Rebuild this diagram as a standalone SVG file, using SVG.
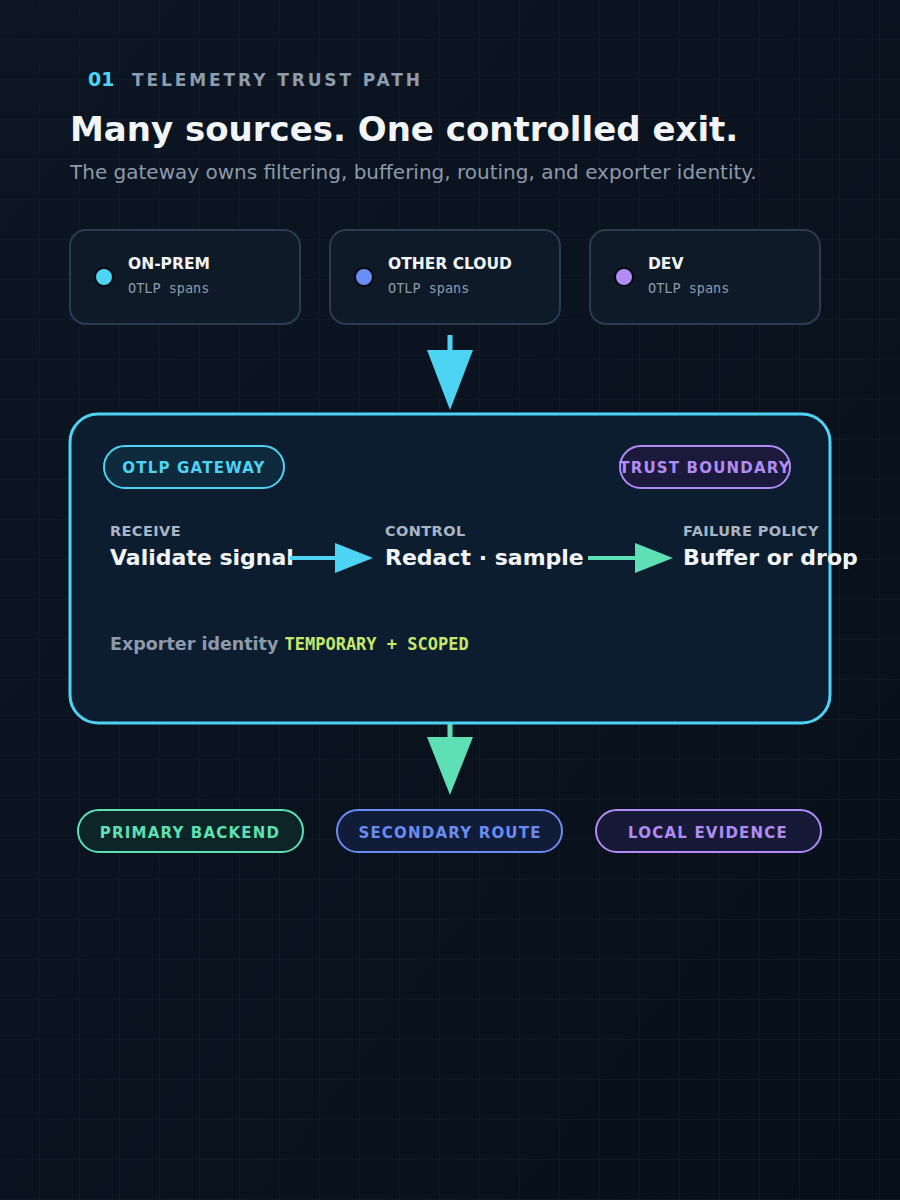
<svg xmlns="http://www.w3.org/2000/svg" width="900" height="1200" viewBox="0 0 900 1200">
<defs>
<linearGradient id="bg" x1="0" y1="0" x2="1" y2="1"><stop offset="0" stop-color="#0c1622"/><stop offset="1" stop-color="#070f1a"/></linearGradient>
<pattern id="grid" width="40" height="40" patternUnits="userSpaceOnUse"><path d="M40 0V40H0" fill="none" stroke="#15202d" stroke-width="1"/></pattern>
<style>
text{font-family:"DejaVu Sans",sans-serif}
.card{fill:#0f1a28;stroke:#2a3c52;stroke-width:2}
.ct{font-size:15.5px;font-weight:bold;fill:#f2f5f8}
.cs{font-size:13.5px;fill:#8d9aab;font-family:"DejaVu Sans Mono",monospace}
.lab{font-size:14.5px;font-weight:bold;fill:#a9b5c5;letter-spacing:.4px}
.big{font-size:22px;font-weight:bold;fill:#f2f5f8}
.pill{font-size:15px;font-weight:bold;letter-spacing:1.2px;text-anchor:middle}
</style>
</defs>
<rect width="900" height="1200" fill="url(#bg)"/>
<rect width="900" height="1200" fill="url(#grid)"/>
<text x="88" y="86" font-size="19" font-weight="bold" fill="#4dd4f5">01</text>
<text x="132" y="86" font-size="17" font-weight="bold" fill="#8d9cae" letter-spacing="2.9">TELEMETRY TRUST PATH</text>
<text x="70" y="141" font-size="34" font-weight="bold" fill="#f2f5f8">Many sources. One controlled exit.</text>
<text x="70" y="179" font-size="20" fill="#8d9aab">The gateway owns filtering, buffering, routing, and exporter identity.</text>
<g id="src-onprem"><rect class="card" x="70" y="230" width="230" height="94" rx="16"/><circle cx="104" cy="277" r="9" fill="#4dd4f5" stroke="#050a10" stroke-width="2"/><text class="ct" x="128" y="269">ON-PREM</text><text class="cs" x="128" y="293">OTLP spans</text></g>
<g id="src-cloud"><rect class="card" x="330" y="230" width="230" height="94" rx="16"/><circle cx="364" cy="277" r="9" fill="#6a8cf5" stroke="#050a10" stroke-width="2"/><text class="ct" x="388" y="269">OTHER CLOUD</text><text class="cs" x="388" y="293">OTLP spans</text></g>
<g id="src-dev"><rect class="card" x="590" y="230" width="230" height="94" rx="16"/><circle cx="624" cy="277" r="9" fill="#b18cf5" stroke="#050a10" stroke-width="2"/><text class="ct" x="648" y="269">DEV</text><text class="cs" x="648" y="293">OTLP spans</text></g>
<g id="gateway">
<rect x="70" y="414" width="760" height="309" rx="28" fill="#0d1d30" stroke="#4dd4f5" stroke-width="3"/>
<rect x="104" y="446" width="180" height="42" rx="21" fill="#0f2a3c" stroke="#4dd4f5" stroke-width="2"/>
<text class="pill" x="194" y="473" fill="#4dd4f5">OTLP GATEWAY</text>
<rect x="620" y="446" width="170" height="42" rx="21" fill="#1c1a3a" stroke="#b18cf5" stroke-width="2"/>
<text class="pill" x="705" y="473" fill="#b18cf5">TRUST BOUNDARY</text>
<text class="lab" x="110" y="536">RECEIVE</text><text class="big" x="110" y="565">Validate signal</text>
<text class="lab" x="385" y="536">CONTROL</text><text class="big" x="385" y="565">Redact · sample</text>
<text class="lab" x="683" y="536">FAILURE POLICY</text><text class="big" x="683" y="565">Buffer or drop</text>
<text x="110" y="650" font-size="17.5" font-weight="bold" fill="#8d9aab">Exporter identity <tspan font-family="DejaVu Sans Mono,monospace" font-size="17" fill="#c5e86c">TEMPORARY + SCOPED</tspan></text>
</g>
<g id="connectors">
<line x1="450" y1="335" x2="450" y2="352" stroke="#4dd4f5" stroke-width="5"/>
<polygon points="427,350 473,350 450,410" fill="#4dd4f5"/>
<line x1="290" y1="558" x2="337" y2="558" stroke="#4dd4f5" stroke-width="4"/>
<polygon points="335,543 373,558 335,573" fill="#4dd4f5"/>
<line x1="588" y1="558" x2="637" y2="558" stroke="#5ee0b4" stroke-width="4"/>
<polygon points="635,543 673,558 635,573" fill="#5ee0b4"/>
<line x1="450" y1="724" x2="450" y2="739" stroke="#5ee0b4" stroke-width="5"/>
<polygon points="427,737 473,737 450,795" fill="#5ee0b4"/>
</g>
<g id="dst-primary"><rect x="78" y="810" width="225" height="42" rx="21" fill="#0e2528" stroke="#5ee0b4" stroke-width="2"/><text class="pill" x="190" y="838" fill="#5ee0b4">PRIMARY BACKEND</text></g>
<g id="dst-secondary"><rect x="337" y="810" width="225" height="42" rx="21" fill="#101c38" stroke="#6a8cf5" stroke-width="2"/><text class="pill" x="450" y="838" fill="#6a8cf5">SECONDARY ROUTE</text></g>
<g id="dst-local"><rect x="596" y="810" width="225" height="42" rx="21" fill="#171a36" stroke="#b18cf5" stroke-width="2"/><text class="pill" x="708" y="838" fill="#b18cf5">LOCAL EVIDENCE</text></g>
</svg>
